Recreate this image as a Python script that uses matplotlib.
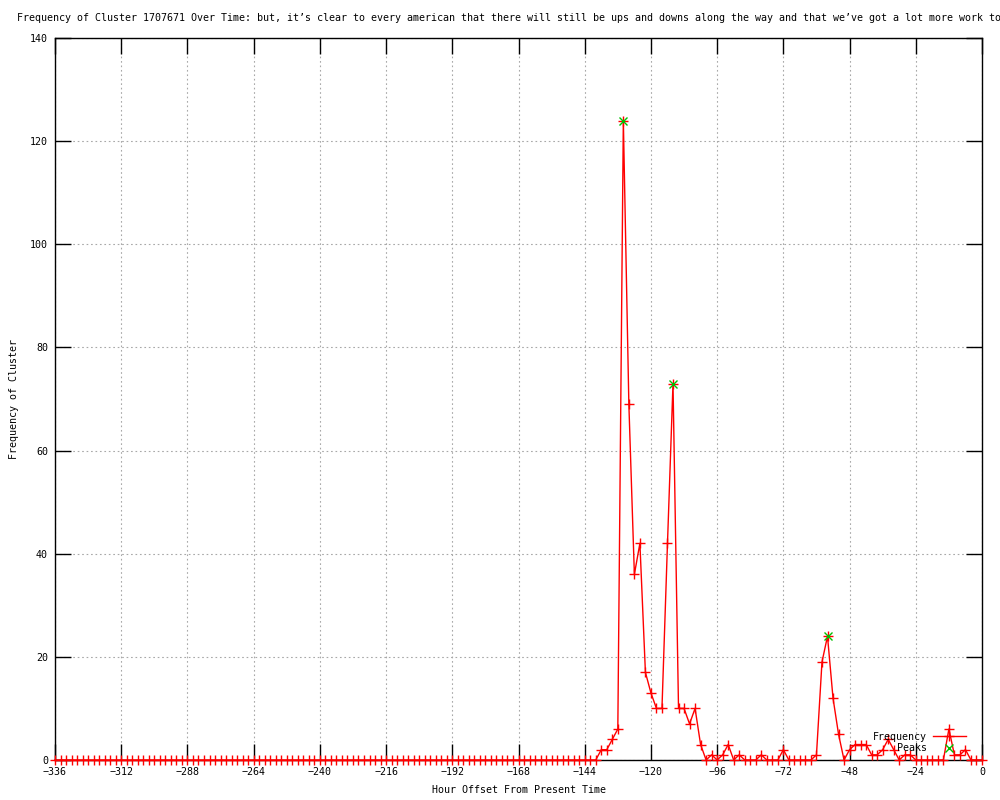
import numpy as np
import matplotlib
matplotlib.use("Agg")
import matplotlib.pyplot as plt

# hours offset (every 2 h) and counts
hours = np.arange(-336, 1, 2)
freq_tail = {
    -138: 2, -136: 2, -134: 4, -132: 6, -130: 124, -128: 69, -126: 36, -124: 42,
    -122: 17, -120: 13, -118: 10, -116: 10, -114: 42, -112: 73, -110: 10, -108: 10,
    -106: 7, -104: 10, -102: 3, -98: 1, -94: 1, -92: 3, -88: 1, -80: 1, -72: 2,
    -60: 1, -58: 19, -56: 24, -54: 12, -52: 5, -48: 2, -46: 3, -44: 3, -42: 3,
    -40: 1, -38: 1, -36: 2, -34: 4, -32: 2, -28: 1, -26: 1, -12: 6, -10: 1,
    -8: 1, -6: 2,
}
freq = np.array([freq_tail.get(h, 0) for h in hours])

peak_hours = [-130, -112, -56]
peak_vals = [124, 73, 24]

title = ("Frequency of Cluster 1707671 Over Time: but, it\u2019s clear to every american "
         "that there will still be ups and downs along the way and that we\u2019ve got a lot more work to")

plt.rcParams['font.family'] = ['DejaVu Sans Mono']
fs = 7.2

fig = plt.figure(figsize=(10, 8), dpi=100)
ax = fig.add_axes([0.055, 0.05, 0.927, 0.9025])

ax.plot(hours, freq, color='red', lw=1.0, marker='+', ms=7, mew=1.0, label='Frequency',
        clip_on=False, zorder=3)
ax.plot(peak_hours, peak_vals, ls='none', color='#00c000', marker='x', ms=5.5, mew=1.0,
        label='Peaks', zorder=4)

ax.set_xlim(-336, 0)
ax.set_ylim(0, 140)
ax.set_xticks(np.arange(-336, 1, 24))
ax.set_yticks(np.arange(0, 141, 20))
ax.tick_params(direction='in', length=11.5, width=1, labelsize=fs, top=True, right=True, pad=5)
ax.set_xticklabels([str(t).replace('-', '\u2212') for t in np.arange(-336, 1, 24)])
ax.grid(True, color='#a8a8a8', ls=(0, (1.5, 2.5)), lw=0.8)
for s in ax.spines.values():
    s.set_linewidth(1)

ax.set_xlabel('Hour Offset From Present Time', fontsize=fs, labelpad=6)
ax.set_ylabel('Frequency of Cluster', fontsize=fs, labelpad=8)

fig.text(0.017, 0.977, title, fontsize=fs, ha='left', va='center')

ax.legend(loc='lower right', bbox_to_anchor=(0.99, 0.0), frameon=False, markerfirst=False,
          fontsize=fs, handlelength=3.3, labelspacing=0.15, borderaxespad=0.3, handletextpad=0.6)

fig.savefig('out.png', dpi=100)
